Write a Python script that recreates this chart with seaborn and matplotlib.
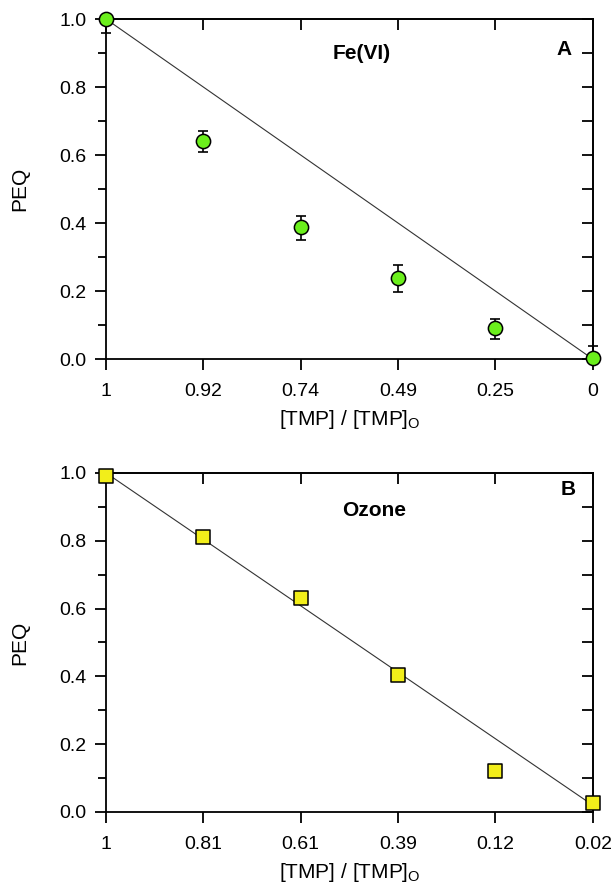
import matplotlib
matplotlib.use("Agg")
import matplotlib.pyplot as plt
from matplotlib.ticker import MultipleLocator, FixedLocator
import seaborn as sns
import pandas as pd
import numpy as np

# ---- data ----
fe_ticks = ["1", "0.92", "0.74", "0.49", "0.25", "0"]
fe_peq = [1.0, 0.642, 0.387, 0.239, 0.090, 0.003]
fe_err_lo = [0.040, 0.032, 0.037, 0.041, 0.032, 0.0]
fe_err_hi = [0.0, 0.030, 0.034, 0.037, 0.028, 0.036]
fe_line_y = [1.0, 0.0]

oz_ticks = ["1", "0.81", "0.61", "0.39", "0.12", "0.02"]
oz_peq = [0.99, 0.81, 0.63, 0.405, 0.122, 0.027]
oz_line_y = [1.0, 0.02]

sns.set_style("ticks")
plt.rcParams['font.family'] = ['Liberation Sans', 'DejaVu Sans']
plt.rcParams['text.color'] = 'black'
plt.rcParams['axes.labelcolor'] = 'black'

fig = plt.figure(figsize=(6.13, 8.91), dpi=100)
axA = fig.add_axes([0.173, 0.597, 0.794, 0.3816])
axB = fig.add_axes([0.173, 0.0887, 0.794, 0.3805])

LW = 1.3


def style(ax, ticks):
    ax.set_xlim(0, len(ticks) - 1)
    ax.set_ylim(0, 1.0)
    ax.xaxis.set_major_locator(FixedLocator(range(len(ticks))))
    ax.set_xticklabels(ticks)
    ax.yaxis.set_major_locator(MultipleLocator(0.2))
    ax.yaxis.set_minor_locator(MultipleLocator(0.1))
    ax.yaxis.set_major_formatter(matplotlib.ticker.FormatStrFormatter('%.1f'))
    for s in ax.spines.values():
        s.set_visible(True)
        s.set_linewidth(LW)
        s.set_color('black')
    ax.tick_params(axis='both', which='both', color='black', width=LW,
                   labelsize=14, labelcolor='black')
    ax.tick_params(axis='x', which='major', direction='out', length=8, pad=9,
                   top=False, bottom=True)
    ax.tick_params(axis='y', which='major', direction='out', length=8, pad=6,
                   left=True, right=False)
    ax.tick_params(axis='y', which='minor', direction='out', length=5.5,
                   left=True, right=False)
    # inward ticks on top and right
    secx = ax.secondary_xaxis('top')
    secx.set_xticks(range(len(ticks)))
    secx.tick_params(direction='in', length=8, width=LW, labeltop=False, color='black')
    secx.spines['top'].set_linewidth(LW)
    secy = ax.secondary_yaxis('right')
    secy.yaxis.set_major_locator(MultipleLocator(0.2))
    secy.yaxis.set_minor_locator(MultipleLocator(0.1))
    secy.tick_params(which='major', direction='in', length=8, width=LW, labelright=False, color='black')
    secy.tick_params(which='minor', direction='in', length=8, width=LW, color='black')
    secy.spines['right'].set_linewidth(LW)
    ax.set_ylabel("PEQ", fontsize=15, labelpad=22, color='black')
    ax.set_xlabel("[TMP] / [TMP]$_\\mathregular{O}$", fontsize=15, labelpad=6, color='black')


# ---- panel A ----
dfA = pd.DataFrame({"x": np.arange(len(fe_ticks)), "y": fe_peq})
sns.lineplot(x=[0, len(fe_ticks) - 1], y=fe_line_y, ax=axA, color='#333333', lw=0.8)
axA.errorbar(dfA["x"], dfA["y"], yerr=[fe_err_lo, fe_err_hi], fmt='none',
             ecolor='black', elinewidth=1.2, capsize=3.8, capthick=1.2, zorder=3, clip_on=False)
sns.scatterplot(data=dfA, x="x", y="y", ax=axA, marker='o', s=105, color='#6BEF1C',
                edgecolor='black', linewidth=1.1, zorder=4, clip_on=False)
style(axA, fe_ticks)
axA.text(2.63, 0.90, "Fe(VI)", fontsize=15, fontweight='bold', ha='center', va='center')
axA.text(4.71, 0.91, "A", fontsize=15, fontweight='bold', ha='center', va='center')

# ---- panel B ----
dfB = pd.DataFrame({"x": np.arange(len(oz_ticks)), "y": oz_peq})
sns.lineplot(x=[0, len(oz_ticks) - 1], y=oz_line_y, ax=axB, color='#333333', lw=0.8)
sns.scatterplot(data=dfB, x="x", y="y", ax=axB, marker='s', s=95, color='#F2EE1A',
                edgecolor='black', linewidth=1.1, zorder=4, clip_on=False)
style(axB, oz_ticks)
axB.text(2.75, 0.89, "Ozone", fontsize=15, fontweight='bold', ha='center', va='center')
axB.text(4.75, 0.95, "B", fontsize=15, fontweight='bold', ha='center', va='center')

fig.savefig("out.png", dpi=100)
